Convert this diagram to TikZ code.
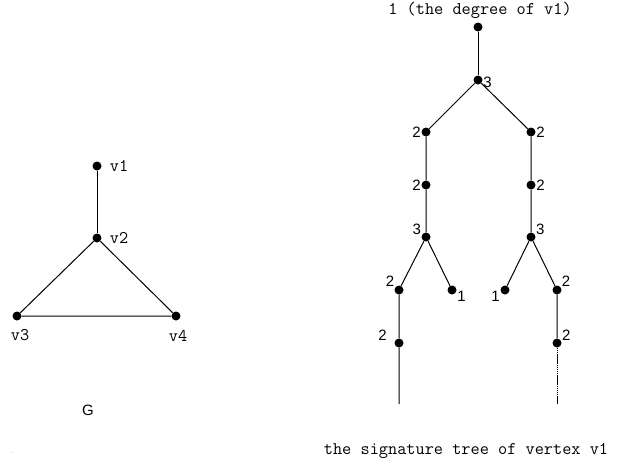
\documentclass[tikz,border=0pt]{standalone}
\usepackage{fontspec}
\setmainfont{Liberation Sans}
\usepackage{tikz}
\usepackage{xcolor}

\tikzset{
  dot/.style={circle,fill=black,inner sep=0pt,minimum size=9pt},
  edge/.style={line width=1pt},
  lbl/.style={font=\fontsize{15}{17}\selectfont,inner sep=0.5pt},
  mono/.style={font=\ttfamily\fontsize{17.8}{20}\selectfont,inner sep=1pt},
}

\begin{document}
\begin{tikzpicture}[x=1pt, y=-1pt]
  \useasboundingbox (0,0) rectangle (621,464);
  % --- Left: the graph G --------------------------------------------------
  \node[dot,label={[mono,label distance=7pt]0:v1}] (v1) at (97,166) {};
  \node[dot,label={[mono,label distance=7pt]0:v2}] (v2) at (97,238) {};
  \node[dot,label={[mono,label distance=8pt,xshift=3pt]below:v3}] (v3) at (17,316) {};
  \node[dot,label={[mono,label distance=8pt,xshift=2pt]below:v4}] (v4) at (176,316) {};
  \draw[edge] (v1) -- (v2);
  \draw[edge] (v2) -- (v3) -- (v4) -- (v2);
  \node[lbl] (gname) at (88,410) {G};
  \node[lbl,font=\tiny] (stray) at (12,453) {.};

  % --- Right: signature tree of v1 ----------------------------------------
  \node[mono] (title) at (480,10) {1 (the degree of v1)};
  \node[dot] (root) at (478,27) {};
  \node[dot,label={[lbl,yshift=-2pt]0:3}] (t3) at (478,80) {};
  \node[dot,label={[lbl]180:2}] (la) at (426,132) {};
  \node[dot,label={[lbl]0:2}] (ra) at (531,132) {};
  \node[dot,label={[lbl]180:2}] (lb) at (426,185) {};
  \node[dot,label={[lbl]0:2}] (rb) at (531,185) {};
  \node[dot,label={[lbl]160:3}] (lc) at (426,237) {};
  \node[dot,label={[lbl]20:3}] (rc) at (531,237) {};
  \node[dot,label={[lbl]150:2}] (ll) at (399,290) {};
  \node[dot,label={[lbl]-10:1}] (lr) at (452,290) {};
  \node[dot,label={[lbl]190:1}] (rl) at (505,290) {};
  \node[dot,label={[lbl]30:2}] (rr) at (557,290) {};
  \node[dot,label={[lbl,label distance=7pt]170:2}] (lld) at (399,343) {};
  \node[dot,label={[lbl]20:2}] (rrd) at (557,343) {};
  \coordinate (lend) at (399,404);
  \coordinate (rend) at (557,404);
  \draw[edge] (root) -- (t3);
  \draw[edge] (t3) -- (la) -- (lb) -- (lc);
  \draw[edge] (t3) -- (ra) -- (rb) -- (rc);
  \draw[edge] (lc) -- (ll) -- (lld) -- (lend);
  \draw[edge] (lc) -- (lr);
  \draw[edge] (rc) -- (rl);
  \draw[edge] (rc) -- (rr) -- (rrd);
  \draw[edge,dash pattern=on 1.5pt off 0.6pt] (rrd) -- (rend);
  \node[mono] (caption) at (466,451) {the signature tree of vertex v1};
\end{tikzpicture}
\end{document}
